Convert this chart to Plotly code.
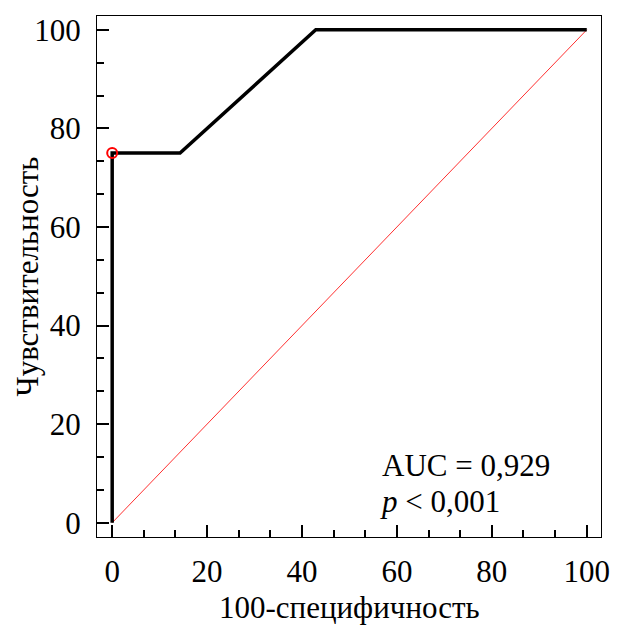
import plotly.graph_objects as go

# ROC curve data
fpr = [0, 0, 14.3, 42.9, 100]          # 100 - specificity
tpr = [0, 75, 75, 100, 100]            # sensitivity
ref_x = [0, 100]
ref_y = [0, 100]
cut_x = [0]
cut_y = [75]
x_ticks = [0, 20, 40, 60, 80, 100]
y_ticks = [0, 20, 40, 60, 80, 100]
x_title = "100-специфичность"
y_title = "Чувствительность"
auc_text = "AUC = 0,929"
p_text = "<i>p</i> < 0,001"

FONT = "Liberation Serif, Times New Roman, serif"
FS = 31

fig = go.Figure()
fig.add_trace(go.Scatter(x=ref_x, y=ref_y, mode="lines",
                         line=dict(color="#ff3030", width=1), showlegend=False))
fig.add_trace(go.Scatter(x=fpr, y=tpr, mode="lines",
                         line=dict(color="black", width=3.5), showlegend=False))
fig.add_trace(go.Scatter(x=cut_x, y=cut_y, mode="markers",
                         marker=dict(symbol="circle-open", color="red", size=10,
                                     line=dict(width=2, color="red")),
                         showlegend=False))

axis_common = dict(
    showgrid=False, zeroline=False, showline=True, linecolor="black", linewidth=1.2,
    mirror=True, ticks="inside", ticklen=12, tickwidth=1.8, tickcolor="black",
    minor=dict(ticks="inside", ticklen=7, tickwidth=1.8, tickcolor="black", dtick=20/3, tick0=0),
    tickfont=dict(family=FONT, size=FS, color="black"),
)

fig.update_xaxes(**axis_common, range=[-3.2, 103], tickvals=x_ticks,
                 ticktext=[str(v) for v in x_ticks], ticklabelstandoff=7)
fig.update_yaxes(**axis_common, range=[-2.9, 102.8], tickvals=y_ticks,
                 ticktext=[str(v) for v in y_ticks], ticklabelstandoff=9)

# axis titles
fig.add_annotation(x=(349 - 97) / 504, y=(537 - 607) / 521, xref="paper", yref="paper",
                   text=x_title, showarrow=False, xanchor="center", yanchor="middle",
                   font=dict(family=FONT, size=FS, color="black"))
fig.add_annotation(x=(27 - 97) / 504, y=0.5, xref="paper", yref="paper",
                   text=y_title, showarrow=False, xanchor="center", yanchor="middle",
                   textangle=-90, font=dict(family=FONT, size=FS, color="black"))

fig.add_annotation(x=56.4, y=11.7, xref="x", yref="y", text=auc_text, showarrow=False,
                   xanchor="left", yanchor="middle", font=dict(family=FONT, size=FS, color="black"))
fig.add_annotation(x=56.0, y=4.3, xref="x", yref="y", text=p_text, showarrow=False,
                   xanchor="left", yanchor="middle", font=dict(family=FONT, size=FS, color="black"))

fig.update_layout(width=624, height=626, margin=dict(l=97, r=23, t=16, b=89, autoexpand=False),
                  plot_bgcolor="white", paper_bgcolor="white", font=dict(family=FONT))
fig.write_html("out.html", config={"displayModeBar": False},
               post_script="document.body.style.margin='0';document.body.style.overflow='hidden';")
